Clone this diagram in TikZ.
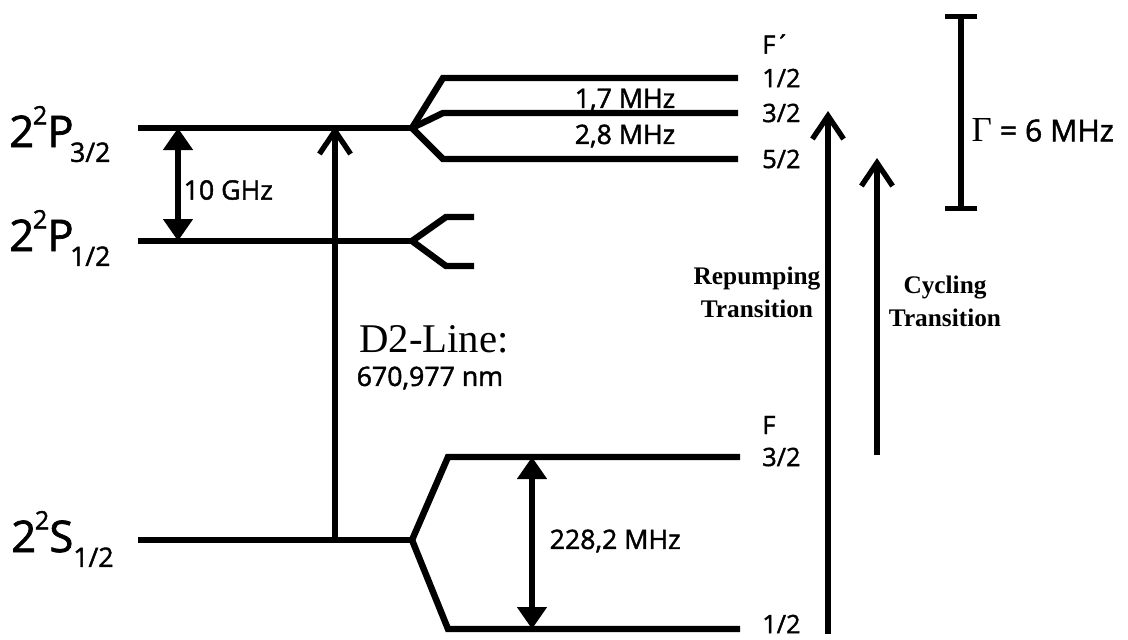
\documentclass[tikz,border=0pt]{standalone}
\usepackage{fontspec}
\setmainfont{Liberation Serif}
\setsansfont{Open Sans}[FakeBold=1.6]
\usetikzlibrary{arrows.meta}

% Termsymbol 2^2 X_{J}
\newcommand{\termsym}[3][0pt]{2\kern-0.03em\raisebox{0.52em}{\fontsize{18}{18}\selectfont 2}#2\kern#1\raisebox{-0.34em}{\fontsize{19}{19}\selectfont #3}}

\begin{document}
\begin{tikzpicture}[x=0.025cm,y=-0.025cm,
      level/.style={line width=4.6pt,line join=miter},
      gap/.style={line width=3.8pt,
                  {Triangle[length=0.55cm,width=0.72cm]}-{Triangle[length=0.55cm,width=0.72cm]}},
      trans/.style={line width=3.8pt,-{Straight Barb[length=0.58cm,width=0.78cm,line join=miter]}},
      term/.style={font=\sffamily\fontsize{31}{31}\selectfont,anchor=base west,inner sep=0pt},
      lbl/.style={font=\sffamily\fontsize{19}{19}\selectfont,anchor=west,inner sep=1pt},
      qn/.style={font=\sffamily\fontsize{18}{18}\selectfont,anchor=west,inner sep=0pt},
      note/.style={font=\bfseries\fontsize{18}{23.5}\selectfont,align=center}]

      \useasboundingbox (0,0) rectangle (1128,639);

      % Feinstruktur
      \node[term] (P32) at (9,147) {\termsym[-2.5pt]{P}{3/2}};
      \node[term] (P12) at (9,251) {\termsym[-2.5pt]{P}{1/2}};
      \node[term] (S12) at (11,552) {\termsym{S}{1/2}};
      \draw[level] (138,128) -- (412,128);
      \draw[level] (138,241) -- (412,241);
      \draw[level] (138,540) -- (412,540);

      % Hyperfeinstruktur 2P3/2
      \draw[level] (412,128) -- (443,78) -- (738,78);
      \draw[level] (412,128) -- (443,113) -- (738,113);
      \draw[level] (412,128) -- (443,159) -- (738,159);
      \node[lbl,anchor=center] (hfa) at (625,100) {1,7 MHz};
      \node[lbl,anchor=center] (hfb) at (625,136) {2,8 MHz};

      % Hyperfeinstruktur 2P1/2
      \draw[level] (412,241) -- (446,217) -- (474,217);
      \draw[level] (412,241) -- (446,266) -- (474,266);

      % Hyperfeinstruktur 2S1/2
      \draw[level] (412,540) -- (448,457) -- (740,457);
      \draw[level] (412,540) -- (448,629) -- (740,629);

      % Quantenzahlen
      \node[qn] (Fe)  at (762,44)  {F´};
      \node[qn] (Fe1) at (762,78)  {1/2};
      \node[qn] (Fe3) at (762,113) {3/2};
      \node[qn] (Fe5) at (762,159) {5/2};
      \node[qn] (Fg)  at (762,425) {F};
      \node[qn] (Fg3) at (762,457) {3/2};
      \node[qn] (Fg1) at (762,624) {1/2};

      % Abstaende
      \coordinate (fsa) at (178,128);
      \coordinate (fsb) at (178,241);
      \draw[gap] (fsa) -- (fsb);
      \node[lbl] (fs) at (182,190) {10 GHz};
      \coordinate (hsa) at (532,457);
      \coordinate (hsb) at (532,629);
      \draw[gap] (hsa) -- (hsb);
      \node[lbl] (hs) at (548,541) {228,2 MHz};

      % D2-Linie
      \coordinate (d2a) at (335,540);
      \coordinate (d2b) at (335,126);
      \draw[trans] (d2a) -- (d2b);
      \node[font=\fontsize{29}{29}\selectfont,anchor=base west,inner sep=0pt] (d2) at (359,352) {D2-Line:};
      \node[lbl] (lam) at (355,378) {670,977 nm};

      % Uebergaenge
      \coordinate (rpa) at (828,634);
      \coordinate (rpb) at (828,111);
      \draw[trans] (rpa) -- (rpb);
      \node[note] (rp) at (757,292) {Repumping\\Transition};
      \coordinate (cya) at (877,455);
      \coordinate (cyb) at (877,158);
      \draw[trans] (cya) -- (cyb);
      \node[note] (cy) at (945,301) {Cycling\\Transition};

      % Linienbreite
      \coordinate (lwa) at (961,14);
      \coordinate (lwb) at (961,211);
      \draw[line width=3.8pt,{Bar[width=0.8cm]}-{Bar[width=0.8cm]}] (lwa) -- (lwb);
      \node[lbl,font=\sffamily\fontsize{21.5}{21.5}\selectfont] (lw) at (970,130)
        {{\rmfamily\fontsize{25}{25}\selectfont Γ} = 6 MHz};
    \end{tikzpicture}
\end{document}
